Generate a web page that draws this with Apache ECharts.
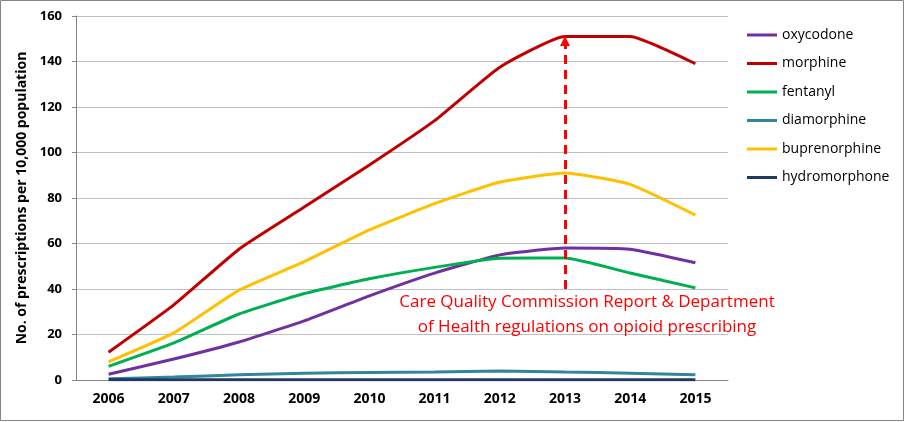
<!DOCTYPE html>
<html>
<head>
<meta charset="utf-8">
<script src="https://cdn.jsdelivr.net/npm/echarts@6/dist/echarts.min.js"></script>
<style>
html,body{margin:0;padding:0;background:#fff;}
#c{width:905px;height:422px;}
</style>
</head>
<body>
<div id="c"></div>
<script>
const years = ['2006','2007','2008','2009','2010','2011','2012','2013','2014','2015'];
const oxycodone     = [2.5, 9.2, 16.7, 26, 37, 47, 55, 58, 57.5, 51.5];
const morphine      = [12.2, 33, 57.5, 76, 94.5, 114, 137.5, 151, 151, 139];
const fentanyl      = [6, 16.3, 29, 38, 44.5, 49.5, 53.5, 53.6, 47, 40.5];
const diamorphine   = [0.5, 1.3, 2.3, 3, 3.3, 3.5, 4, 3.5, 3, 2.3];
const buprenorphine = [8, 20.7, 39.5, 52, 66, 77.5, 87, 91, 86, 72.5];
const hydromorphone = [0.1, 0.1, 0.1, 0.1, 0.1, 0.1, 0.1, 0.1, 0.1, 0.1];
const yTicks = [0, 20, 40, 60, 80, 100, 120, 140, 160];
const annotationText = 'Care Quality Commission Report & Department\nof Health regulations on opioid prescribing';
const annotationYear = '2013';
const annotationFrom = 40;
const annotationTo = 149;

const chart = echarts.init(document.getElementById('c'));
const font = 'Open Sans';
function mk(name, data, color, extra) {
  return Object.assign({
    name: name, type: 'line', data: data, smooth: 0.15, symbol: 'none',
    lineStyle: { color: color, width: 3 }, itemStyle: { color: color }, z: 3
  }, extra || {});
}
chart.setOption({
  animation: false,
  textStyle: { fontFamily: font },
  grid: { left: 76, right: 177, top: 16, bottom: 42 },
  legend: {
    orient: 'vertical', left: 742, top: 23, itemGap: 14.5,
    itemWidth: 30, itemHeight: 3,
    icon: 'rect',
    textStyle: { fontSize: 14, color: '#000', fontFamily: font },
    data: ['oxycodone','morphine','fentanyl','diamorphine','buprenorphine','hydromorphone']
  },
  xAxis: {
    type: 'category', data: years, boundaryGap: true,
    axisLine: { lineStyle: { color: '#868686' } },
    axisTick: { show: false },
    axisLabel: { color: '#000', fontWeight: 'bold', fontSize: 14, margin: 12, fontFamily: font }
  },
  yAxis: {
    type: 'value', min: yTicks[0], max: yTicks[yTicks.length-1], interval: 20,
    name: 'No. of prescriptions per 10,000 population',
    nameLocation: 'middle', nameGap: 42, nameRotate: 90,
    nameTextStyle: { color: '#000', fontWeight: 'bold', fontSize: 14, fontFamily: font },
    axisLine: { show: true, lineStyle: { color: '#868686' } },
    axisTick: { show: true, length: 4, lineStyle: { color: '#868686' } },
    axisLabel: { color: '#000', fontWeight: 'bold', fontSize: 13, margin: 14, fontFamily: font },
    splitLine: { lineStyle: { color: '#BFBFBF', width: 1 } }
  },
  series: [
    mk('oxycodone', oxycodone, '#7030A0'),
    mk('morphine', morphine, '#C00000'),
    mk('fentanyl', fentanyl, '#00B050', {
      markLine: {
        silent: true, symbol: ['none', 'triangle'], symbolSize: [10, 10],
        lineStyle: { color: '#FF0000', type: [9, 6], width: 3 },
        label: { show: false },
        data: [[ { coord: [annotationYear, annotationFrom] }, { coord: [annotationYear, annotationTo] } ]]
      }
    }),
    mk('diamorphine', diamorphine, '#31859C'),
    mk('buprenorphine', buprenorphine, '#FFC000'),
    mk('hydromorphone', hydromorphone, '#1F3864')
  ],
  graphic: [
    { type: 'rect', shape: { x: 0.5, y: 0.5, width: 903, height: 420 }, style: { fill: 'none', stroke: '#868686', lineWidth: 1 }, silent: true },
    { type: 'text', x: 587, y: 290, z: 10,
      style: { text: annotationText, fill: '#FF0000', fontSize: 17, fontFamily: font, align: 'center', verticalAlign: 'top', lineHeight: 25 } }
  ]
});
</script>
</body>
</html>
